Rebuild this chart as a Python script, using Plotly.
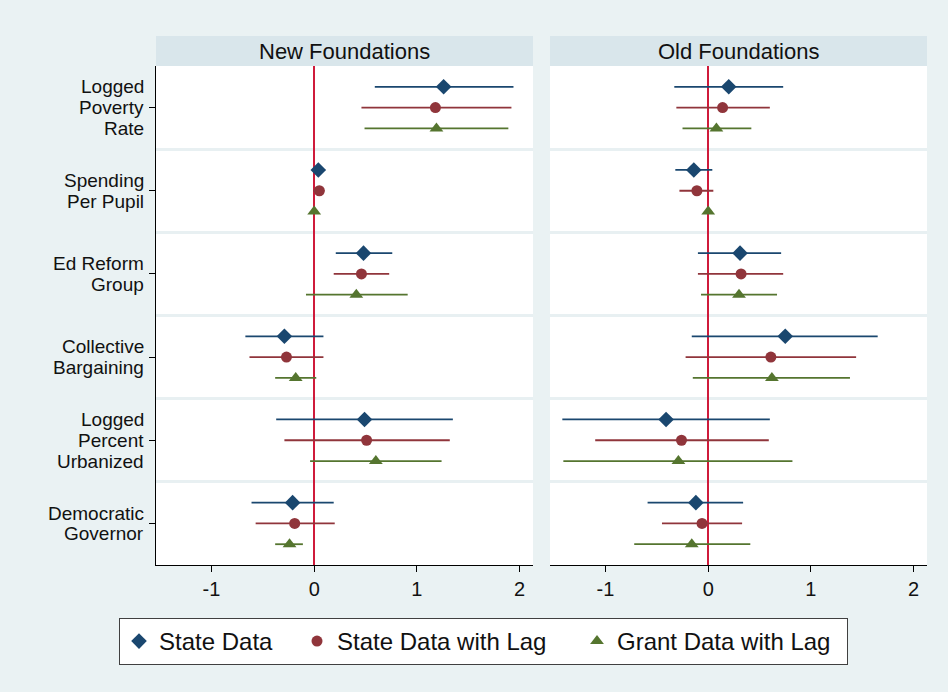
import plotly.graph_objects as go

# ---------------- data ----------------
variables = ["Logged<br>Poverty<br>Rate", "Spending<br>Per Pupil", "Ed Reform<br>Group",
             "Collective<br>Bargaining", "Logged<br>Percent<br>Urbanized", "Democratic<br>Governor"]
panels = ["New Foundations", "Old Foundations"]
series_names = ["State Data", "State Data with Lag", "Grant Data with Lag"]

# New Foundations
new_state_est = [1.26, 0.04, 0.48, -0.29, 0.49, -0.21]
new_state_lo = [0.59, 0.03, 0.21, -0.67, -0.37, -0.61]
new_state_hi = [1.94, 0.05, 0.76, 0.09, 1.35, 0.19]

new_lag_est = [1.18, 0.05, 0.46, -0.27, 0.51, -0.19]
new_lag_lo = [0.46, -0.01, 0.19, -0.63, -0.29, -0.57]
new_lag_hi = [1.92, 0.10, 0.73, 0.09, 1.32, 0.20]

new_grant_est = [1.19, 0.00, 0.41, -0.18, 0.60, -0.24]
new_grant_lo = [0.49, -0.01, -0.08, -0.38, -0.04, -0.38]
new_grant_hi = [1.89, 0.01, 0.91, 0.02, 1.24, -0.11]

# Old Foundations
old_state_est = [0.20, -0.14, 0.31, 0.75, -0.41, -0.12]
old_state_lo = [-0.33, -0.32, -0.10, -0.16, -1.42, -0.59]
old_state_hi = [0.73, 0.04, 0.71, 1.65, 0.60, 0.34]

old_lag_est = [0.14, -0.11, 0.32, 0.61, -0.26, -0.06]
old_lag_lo = [-0.31, -0.28, -0.10, -0.22, -1.10, -0.45]
old_lag_hi = [0.60, 0.05, 0.73, 1.44, 0.59, 0.33]

old_grant_est = [0.08, 0.00, 0.30, 0.62, -0.29, -0.16]
old_grant_lo = [-0.25, -0.01, -0.07, -0.15, -1.41, -0.72]
old_grant_hi = [0.42, 0.01, 0.67, 1.38, 0.82, 0.41]

x_ticks = [-1, 0, 1, 2]

# ---------------- styling ----------------
colors = ["#1a476f", "#90353b", "#55752f"]
symbols = ["diamond", "circle", "triangle-up"]
sizes = [12, 11, 12]
offsets = [-0.25, 0.0, 0.25]
legend_widths = [133, 235, 225]
BG = "#eaf2f3"
STRIP = "#d9e6eb"
FONT = "Liberation Sans, Arial, Helvetica, sans-serif"

W, H = 948, 692
data_by_panel = [
    [(new_state_est, new_state_lo, new_state_hi),
     (new_lag_est, new_lag_lo, new_lag_hi),
     (new_grant_est, new_grant_lo, new_grant_hi)],
    [(old_state_est, old_state_lo, old_state_hi),
     (old_lag_est, old_lag_lo, old_lag_hi),
     (old_grant_est, old_grant_lo, old_grant_hi)],
]

fig = go.Figure()
for p, panel_data in enumerate(data_by_panel):
    xa = "x" if p == 0 else "x2"
    ya = "y" if p == 0 else "y2"
    for s, (est, lo, hi) in enumerate(panel_data):
        ys = [g + offsets[s] for g in range(len(variables))]
        fig.add_trace(go.Scatter(
            x=est, y=ys, mode="markers", name=series_names[s],
            legendgroup=series_names[s], showlegend=(p == 0),
            legendwidth=legend_widths[s],
            xaxis=xa, yaxis=ya,
            marker=dict(symbol=symbols[s], size=sizes[s], color=colors[s], line=dict(width=0)),
            error_x=dict(type="data", symmetric=False,
                         array=[h - e for h, e in zip(hi, est)],
                         arrayminus=[e - l for e, l in zip(est, lo)],
                         width=0, thickness=1.8, color=colors[s]),
        ))

y_top = 1 - 66 / H
y_bot = 1 - 565 / H
strip_top = 1 - 36 / H
xdoms = [[156 / W, 533 / W], [550 / W, 927 / W]]
xrange_ = [-1.54, 2.13]
ngroups = len(variables)

common_x = dict(range=xrange_, tickmode="array", tickvals=x_ticks,
                ticktext=[str(t) if t >= 0 else "-" + str(-t) for t in x_ticks],
                showgrid=False, zeroline=True, zerolinecolor="#cf1b3b", zerolinewidth=2,
                showline=True, linecolor="#000", linewidth=1, ticks="outside",
                ticklen=6, tickcolor="#000", tickfont=dict(size=20, color="#111"),
                fixedrange=True)
common_y = dict(range=[ngroups - 0.5, -0.5], showgrid=False, zeroline=False,
                tickmode="array", tickvals=list(range(ngroups)), showticklabels=False,
                minor=dict(tickmode="array", tickvals=[g + 0.5 for g in range(ngroups - 1)],
                           showgrid=True, gridcolor="#e8f0f2", gridwidth=3, ticks=""),
                domain=[y_bot, y_top], fixedrange=True)

fig.update_layout(
    width=W, height=H,
    margin=dict(l=0, r=0, t=0, b=0),
    paper_bgcolor=BG, plot_bgcolor="white",
    font=dict(family=FONT, color="#111"),
    xaxis=dict(domain=xdoms[0], anchor="y", **common_x),
    xaxis2=dict(domain=xdoms[1], anchor="y2", **common_x),
    yaxis=dict(anchor="x", showline=True, linecolor="#000", linewidth=1,
               ticks="outside", ticklen=6, tickcolor="#000", **common_y),
    yaxis2=dict(anchor="x2", matches="y", showline=False, ticks="", **common_y),
    legend=dict(orientation="h", x=119 / W, y=1 - 618 / H, xanchor="left", yanchor="top",
                bgcolor="white", bordercolor="#404040", borderwidth=1,
                font=dict(size=24, color="#111"), itemclick=False, itemdoubleclick=False),
    showlegend=True,
)

# category labels (right-aligned, tight line spacing like the original)
line_step = 0.25
for g, label in enumerate(variables):
    lines = label.split("<br>")
    n = len(lines)
    for i, ln in enumerate(lines):
        fig.add_annotation(text=ln, xref="paper", yref="y", x=146 / W,
                           y=g + (i - (n - 1) / 2) * line_step,
                           xanchor="right", yanchor="middle", showarrow=False,
                           font=dict(size=19, color="#111"))

for p, name in enumerate(panels):
    xref = "x domain" if p == 0 else "x2 domain"
    fig.add_shape(type="rect", xref=xref, yref="paper", x0=0, x1=1, y0=y_top, y1=strip_top,
                  fillcolor=STRIP, line=dict(width=0), layer="below")
    fig.add_annotation(text=name, xref=xref, yref="paper", x=0.5, y=(y_top + strip_top) / 2,
                       showarrow=False, xanchor="center", yanchor="middle",
                       font=dict(size=22, color="#111"))

fig.write_html("out.html")
